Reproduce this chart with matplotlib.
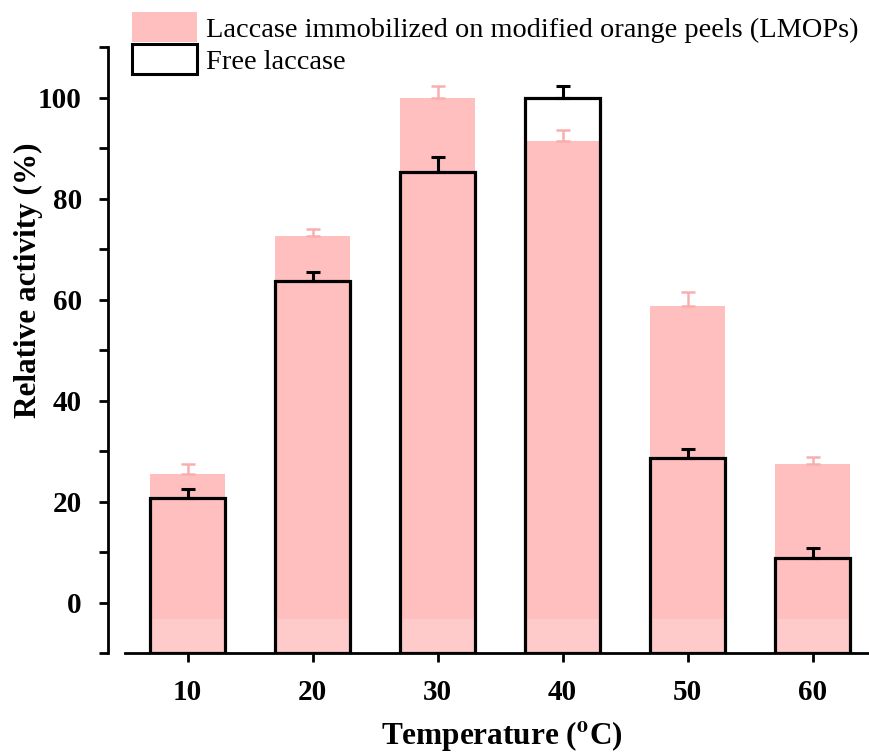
import matplotlib
matplotlib.use("Agg")
import matplotlib.pyplot as plt
from matplotlib.patches import Patch
from matplotlib.ticker import MultipleLocator

# Temperature optimum of free vs. immobilized laccase
temperatures = [10, 20, 30, 40, 50, 60]
lmops_activity = [25.5, 72.6, 100.0, 91.3, 58.7, 27.4]
lmops_error = [2.0, 1.3, 2.2, 2.2, 2.7, 1.4]
free_activity = [20.6, 63.7, 85.2, 100.0, 28.6, 8.9]
free_error = [1.8, 1.7, 3.1, 2.2, 1.8, 1.9]

label_lmops = "Laccase immobilized on modified orange peels (LMOPs)"
label_free = "Free laccase"

plt.rcParams["font.family"] = ["Liberation Serif", "DejaVu Serif"]
plt.rcParams["mathtext.fontset"] = "stix"

pink = "#FFBFBF"
pink_light = "#FFCACA"
pink_err = "#F9AEAE"

W, H = 869, 756
fig = plt.figure(figsize=(W / 100, H / 100), dpi=100)
# axes box in pixel units -> figure fractions
left_px, right_px, top_px, bottom_px = 125, 869, 47, 653
ax = fig.add_axes([left_px / W, 1 - bottom_px / H,
                   (right_px - left_px) / W, (bottom_px - top_px) / H])

ymin, ymax = -10, 110
bar_w = 6.0
band_top = -3.2

# immobilized enzyme: filled bars rising from the bottom of the axis
ax.bar(temperatures, [v - ymin for v in lmops_activity], bottom=ymin,
       width=bar_w, color=pink, edgecolor="none", zorder=1)
ax.bar(temperatures, [band_top - ymin] * len(temperatures), bottom=ymin,
       width=bar_w, color=pink_light, edgecolor="none", zorder=1.1)
ax.errorbar(temperatures, lmops_activity, yerr=[[0] * 6, lmops_error],
            fmt="none", ecolor=pink_err, elinewidth=1.8, capsize=5,
            capthick=1.8, zorder=1.2)

# free enzyme: open outlined bars
ax.bar(temperatures, [v - ymin for v in free_activity], bottom=ymin,
       width=bar_w, facecolor="none", edgecolor="black", linewidth=2.3,
       zorder=2)
ax.errorbar(temperatures, free_activity, yerr=[[0] * 6, free_error],
            fmt="none", ecolor="black", elinewidth=2.2, capsize=5,
            capthick=2.2, zorder=2.1)

ax.set_xlim(5, 64.5)
ax.set_ylim(ymin, ymax)
ax.set_xticks(temperatures)
ax.yaxis.set_major_locator(MultipleLocator(20))
ax.set_yticks([-10, 10, 30, 50, 70, 90, 110], minor=True)

for side in ("top", "right"):
    ax.spines[side].set_visible(False)
ax.spines["left"].set_position(("outward", 12.5))
ax.spines["left"].set_linewidth(2.0)
ax.spines["bottom"].set_linewidth(2.0)

ax.tick_params(axis="both", which="major", direction="out", length=6.5,
               width=2.0, labelsize=21, pad=12)
ax.tick_params(axis="y", which="minor", direction="out", length=6.5,
               width=2.0)
ax.tick_params(axis="x", which="minor", bottom=False)
for lab in ax.get_xticklabels() + ax.get_yticklabels():
    lab.set_fontweight("bold")

ax.set_xlabel(r"Temperature ($\mathbf{^{o}}$C)", fontsize=22.5,
              fontweight="bold")
ax.xaxis.set_label_coords(502 / W, 1 - 719 / H, transform=fig.transFigure)
ax.set_ylabel("Relative activity (%)", fontsize=22.5, fontweight="bold")
ax.yaxis.set_label_coords(43 / W, 1 - 280 / H, transform=fig.transFigure)

handles = [Patch(facecolor=pink, edgecolor="none", label=label_lmops),
           Patch(facecolor="white", edgecolor="black", linewidth=2.2,
                 label=label_free)]
leg = fig.legend(handles=handles, loc="upper left",
                 bbox_to_anchor=(128 / W, 1 - 8 / H), frameon=False,
                 fontsize=20.4, handlelength=2.3, handleheight=1.25,
                 labelspacing=0.06, handletextpad=0.32, borderpad=0.15,
                 borderaxespad=0)

fig.savefig("out.png", dpi=100)
